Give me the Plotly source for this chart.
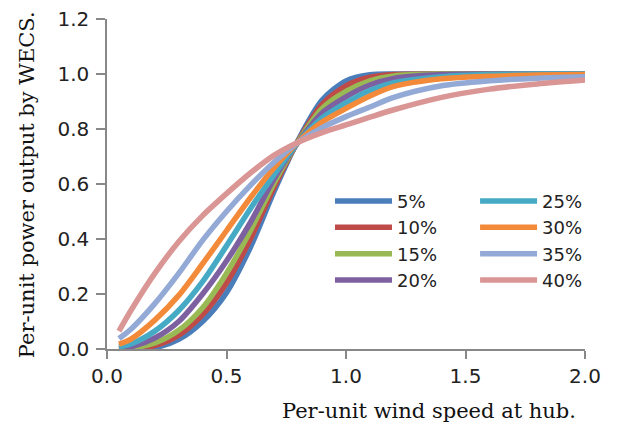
import plotly.graph_objects as go

# Per-unit wind speed at hub (x) and per-unit power output by WECS for each series
wind_speed = [0.05, 0.1, 0.2, 0.3, 0.4, 0.5, 0.6, 0.7, 0.8, 0.9, 1.0, 1.1, 1.2, 1.4, 1.6, 1.8, 2.0]

p05 = [0.000, 0.000, 0.005, 0.035, 0.100, 0.205, 0.370, 0.575, 0.760, 0.905, 0.975, 0.997, 1.000, 1.000, 1.000, 1.000, 1.000]
p10 = [0.000, 0.001, 0.012, 0.050, 0.125, 0.240, 0.400, 0.590, 0.757, 0.890, 0.957, 0.988, 0.998, 1.000, 1.000, 1.000, 1.000]
p15 = [0.000, 0.003, 0.022, 0.068, 0.150, 0.275, 0.430, 0.605, 0.755, 0.875, 0.937, 0.975, 0.993, 1.000, 1.000, 1.000, 1.000]
p20 = [0.002, 0.008, 0.040, 0.100, 0.200, 0.320, 0.460, 0.620, 0.752, 0.858, 0.917, 0.960, 0.984, 0.998, 1.000, 1.000, 1.000]
p25 = [0.008, 0.018, 0.065, 0.140, 0.245, 0.375, 0.510, 0.635, 0.752, 0.840, 0.895, 0.940, 0.968, 0.990, 0.998, 1.000, 1.000]
p30 = [0.018, 0.036, 0.105, 0.195, 0.310, 0.430, 0.550, 0.660, 0.753, 0.825, 0.875, 0.920, 0.955, 0.983, 0.992, 0.996, 0.998]
p35 = [0.038, 0.072, 0.165, 0.275, 0.395, 0.500, 0.595, 0.680, 0.752, 0.805, 0.845, 0.880, 0.915, 0.957, 0.975, 0.985, 0.990]
p40 = [0.065, 0.140, 0.275, 0.390, 0.485, 0.565, 0.640, 0.705, 0.752, 0.787, 0.815, 0.843, 0.870, 0.915, 0.945, 0.964, 0.978]

series_names = ["5%", "10%", "15%", "20%", "25%", "30%", "35%", "40%"]
series_values = [p05, p10, p15, p20, p25, p30, p35, p40]
colors = ["#4A7EBB", "#BE4B48", "#98B954", "#7D60A0", "#46AAC5", "#F38A3A", "#93A9D6", "#D99694"]

x_ticks = [0.0, 0.5, 1.0, 1.5, 2.0]
x_tick_labels = ["0.0", "0.5", "1.0", "1.5", "2.0"]
y_ticks = [0.0, 0.2, 0.4, 0.6, 0.8, 1.0, 1.2]
y_tick_labels = ["0.0", "0.2", "0.4", "0.6", "0.8", "1.0", "1.2"]

fig = go.Figure()
for i, (name, vals, col) in enumerate(zip(series_names, series_values, colors)):
    fig.add_trace(go.Scatter(
        x=wind_speed, y=vals, name=name, mode="lines",
        line=dict(color=col, width=5.5, shape="spline", smoothing=0.8),
        legend="legend" if i < 4 else "legend2",
    ))

tick_font = dict(family="DejaVu Sans", size=20, color="#222")
leg_font = dict(family="DejaVu Sans", size=18, color="#222")
title_font = dict(family="DejaVu Serif", size=21, color="#111")

fig.update_layout(
    width=625, height=428,
    margin=dict(l=107, r=40, t=7, b=79),
    paper_bgcolor="white", plot_bgcolor="white",
    xaxis=dict(range=[0, 2.0], tickvals=x_ticks, ticktext=x_tick_labels,
               showgrid=False, zeroline=False, showline=True, linecolor="#888", linewidth=1.5,
               ticks="outside", ticklen=8, tickcolor="#888", tickwidth=1.5, tickfont=tick_font,
               ticklabelstandoff=0, ticklabeloverflow="allow"),
    yaxis=dict(range=[0, 1.2], tickvals=y_ticks, ticktext=y_tick_labels,
               showgrid=False, zeroline=False, showline=True, linecolor="#888", linewidth=1.5,
               ticks="outside", ticklen=9, tickcolor="#888", tickwidth=1.5, tickfont=tick_font,
               ticklabelstandoff=3, ticklabeloverflow="allow"),
    legend=dict(x=0.4665, y=0.504, xanchor="left", yanchor="top", font=leg_font,
                bgcolor="rgba(0,0,0,0)", itemwidth=57, tracegroupgap=0),
    legend2=dict(x=0.770, y=0.504, xanchor="left", yanchor="top", font=leg_font,
                 bgcolor="rgba(0,0,0,0)", itemwidth=57, tracegroupgap=0),
    annotations=[
        dict(text="Per-unit wind speed at hub.", xref="paper", yref="paper",
             x=0.985, y=-0.187, xanchor="right", yanchor="middle", showarrow=False, font=title_font),
        dict(text="Per-unit power output by WECS.", xref="paper", yref="paper",
             x=-0.167, y=0.497, xanchor="center", yanchor="middle", textangle=-90,
             showarrow=False, font=title_font),
    ],
)

fig.write_html("out.html", config={"displayModeBar": False},
               post_script="document.body.style.margin='0px';")
